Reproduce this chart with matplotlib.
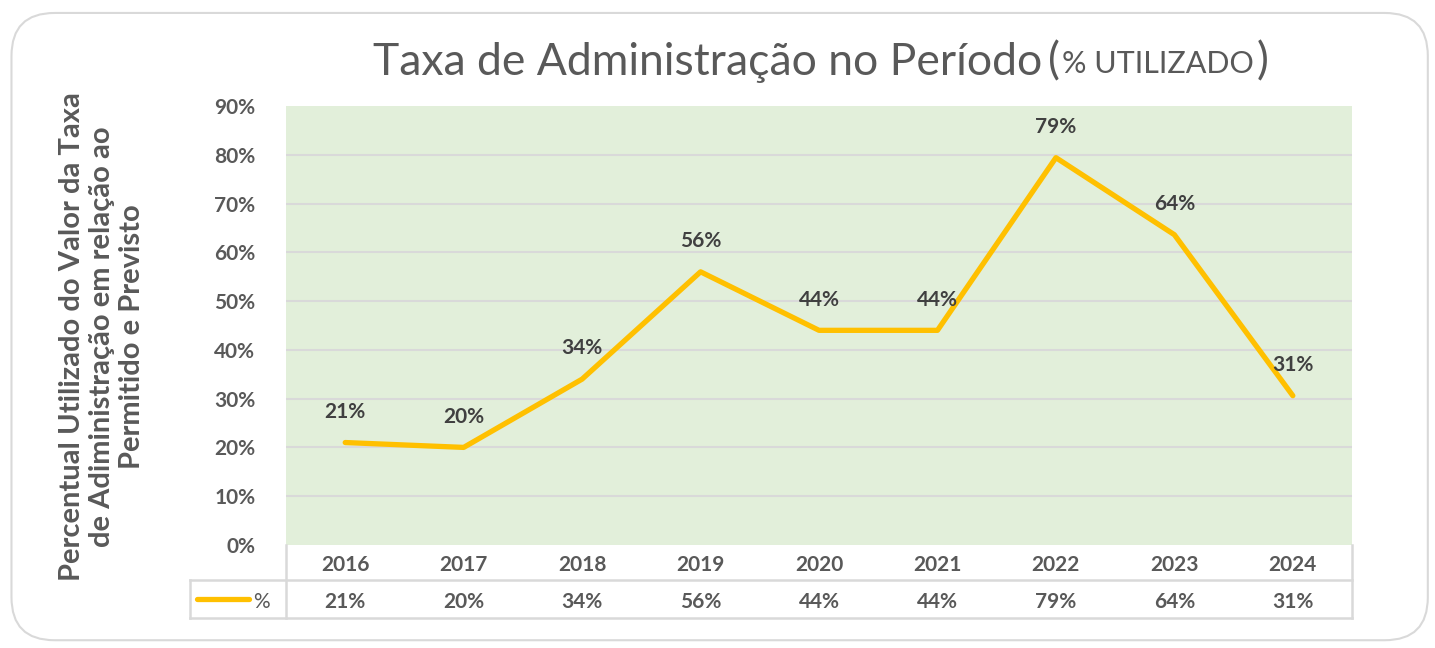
import numpy as np
import matplotlib
matplotlib.use('Agg')
from matplotlib import pyplot as plt
from matplotlib.patches import FancyBboxPatch

plt.rcParams['font.family'] = ['Lato', 'DejaVu Sans']

########
# DATA #
########

years = ['2016', '2017', '2018', '2019', '2020', '2021', '2022', '2023', '2024']
pct = [21, 20, 34, 56, 44, 44, 79.4, 63.6, 30.6]
series_name = '%'

grey = '#595959'
yellow = '#FFC000'

########
# PLOT #
########

fig = plt.figure(figsize=(14.35, 6.48), dpi=100)

# rounded frame around the whole chart
frame = FancyBboxPatch((0.008, 0.012), 0.987, 0.968,
                       boxstyle='round,pad=0,rounding_size=0.03',
                       transform=fig.transFigure, facecolor='white',
                       edgecolor='#D9D9D9', linewidth=1.5,
                       mutation_aspect=1435/648, zorder=-5)
fig.patches.append(frame)

ax = fig.add_axes([0.1993, 0.159, 0.7429, 0.6775])
x = np.arange(len(years))
ax.set_facecolor('#E2EFDA')
ax.plot(x, pct, color=yellow, lw=3.8, solid_capstyle='round', zorder=3)

for xi, v in zip(x, pct):
    ax.annotate('%d%%' % round(v), (xi, v), xytext=(0, 15),
                textcoords='offset points', ha='center', va='bottom',
                fontsize=15, fontweight='bold', color='#404040', zorder=4)

ax.set_xlim(-0.5, len(years) - 0.5)
ax.set_ylim(0, 90)
ax.set_yticks(np.arange(0, 91, 10))
ax.set_yticklabels(['%d%%' % t for t in range(0, 91, 10)],
                   fontsize=15, fontweight='bold', color=grey)
ax.tick_params(axis='y', length=0, pad=22)
ax.set_xticks([])
for t in range(10, 90, 10):
    ax.axhline(t, color='#D9D9D9', lw=1.5, zorder=1)
for s in ax.spines.values():
    s.set_visible(False)

# data table below the plot
tr = ax.get_xaxis_transform()
h1 = -35 / 439.
h2 = -73 / 439.
dy = -3 / 439.  # nudge text to sit like the original
xl = -0.5 - 96 / 118.4
lc = '#D9D9D9'
ax.plot([-0.5, -0.5], [0, h2], color=lc, lw=1.8, transform=tr, clip_on=False)
ax.plot([8.5, 8.5], [0, h2], color=lc, lw=1.8, transform=tr, clip_on=False)
ax.plot([xl, xl], [h1, h2], color=lc, lw=1.8, transform=tr, clip_on=False)
ax.plot([xl, 8.5], [h1, h1], color=lc, lw=1.8, transform=tr, clip_on=False)
ax.plot([xl, 8.5], [h2, h2], color=lc, lw=1.8, transform=tr, clip_on=False)

for xi, yr, v in zip(x, years, pct):
    ax.text(xi, h1 / 2 + dy, yr, transform=tr, ha='center', va='center',
            fontsize=15, fontweight='bold', color=grey)
    ax.text(xi, (h1 + h2) / 2 + dy, '%d%%' % round(v), transform=tr,
            ha='center', va='center', fontsize=15, fontweight='bold',
            color=grey)

# legend key in the table
ax.plot([xl + 0.06, xl + 0.5], [(h1 + h2) / 2] * 2, color=yellow, lw=3.8,
        solid_capstyle='round', transform=tr, clip_on=False)
ax.text(xl + 0.53, (h1 + h2) / 2 + dy, series_name, transform=tr, ha='left',
        va='center', fontsize=15, color=grey)

# title
fig.text(0.726, 0.904, 'Taxa de Administração no Período', ha='right',
         va='center', fontsize=32, color=grey)
fig.text(0.730, 0.904, '(', ha='left', va='center', fontsize=32, color=grey)
fig.text(0.740, 0.902, '% UTILIZADO', ha='left', va='center',
         fontsize=22, color=grey)
fig.text(0.876, 0.904, ')', ha='left', va='center', fontsize=32, color=grey)

# y label
fig.text(0.071, 0.48,
         'Percentual Utilizado do Valor da Taxa\nde Adiministração em relação ao\nPermitido e Previsto',
         rotation=90, ha='center', va='center', fontsize=21,
         fontweight='bold', color=grey, linespacing=1.2)

plt.savefig('out.png', dpi=100)
plt.close()
